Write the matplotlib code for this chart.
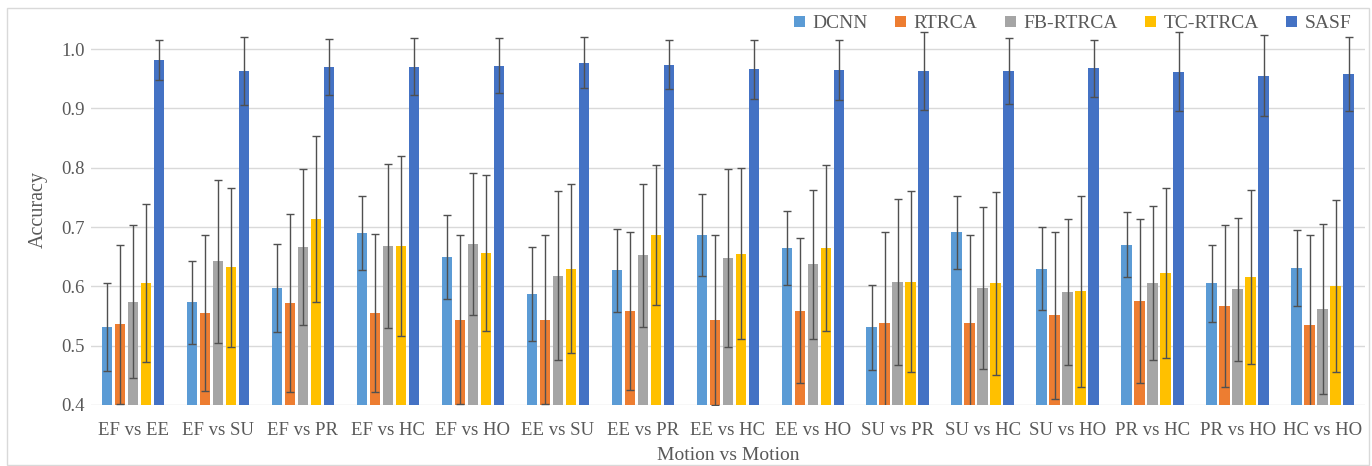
import numpy as np
import matplotlib
matplotlib.use("Agg")
import matplotlib.pyplot as plt
from matplotlib.patches import Rectangle

# Categorias (pares de movimentos)
pairs = ["EF vs EE", "EF vs SU", "EF vs PR", "EF vs HC", "EF vs HO",
         "EE vs SU", "EE vs PR", "EE vs HC", "EE vs HO", "SU vs PR",
         "SU vs HC", "SU vs HO", "PR vs HC", "PR vs HO", "HC vs HO"]

methods = ["DCNN", "RTRCA", "FB-RTRCA", "TC-RTRCA", "SASF"]

# Acurácia média de cada método
dcnn = [0.532, 0.573, 0.597, 0.690, 0.650, 0.587, 0.627, 0.686, 0.665, 0.531,
        0.691, 0.630, 0.670, 0.605, 0.631]
rtrca = [0.536, 0.555, 0.572, 0.555, 0.544, 0.544, 0.558, 0.543, 0.559, 0.538,
         0.539, 0.551, 0.575, 0.567, 0.535]
fb_rtrca = [0.574, 0.642, 0.666, 0.668, 0.671, 0.618, 0.652, 0.648, 0.637, 0.607,
            0.597, 0.590, 0.605, 0.595, 0.562]
tc_rtrca = [0.605, 0.632, 0.713, 0.668, 0.656, 0.630, 0.686, 0.655, 0.665, 0.608,
            0.605, 0.592, 0.623, 0.616, 0.600]
sasf = [0.982, 0.963, 0.970, 0.970, 0.972, 0.977, 0.974, 0.966, 0.965, 0.963,
        0.963, 0.968, 0.962, 0.955, 0.958]

# Desvio padrão (barras de erro)
dcnn_std = [0.074, 0.070, 0.074, 0.062, 0.071, 0.080, 0.070, 0.069, 0.062, 0.072,
            0.062, 0.070, 0.055, 0.065, 0.064]
rtrca_std = [0.134, 0.131, 0.150, 0.134, 0.142, 0.143, 0.133, 0.143, 0.122, 0.154,
             0.148, 0.141, 0.138, 0.137, 0.152]
fb_rtrca_std = [0.129, 0.138, 0.132, 0.138, 0.120, 0.142, 0.121, 0.150, 0.126, 0.140,
                0.136, 0.123, 0.130, 0.121, 0.143]
tc_rtrca_std = [0.133, 0.134, 0.140, 0.152, 0.131, 0.143, 0.118, 0.144, 0.140, 0.153,
                0.154, 0.161, 0.143, 0.147, 0.145]
sasf_std = [0.034, 0.057, 0.047, 0.048, 0.046, 0.043, 0.042, 0.050, 0.050, 0.066,
            0.056, 0.048, 0.066, 0.068, 0.063]

colors = ["#5B9BD5", "#ED7D31", "#A5A5A5", "#FFC000", "#4472C4"]

plt.rcParams['font.family'] = ['Liberation Serif', 'DejaVu Serif']

fig = plt.figure(figsize=(13.72, 4.66), dpi=100)
ax = fig.add_axes([0.066, 0.131, 0.929, 0.84])

x = np.arange(len(pairs))
means = [dcnn, rtrca, fb_rtrca, tc_rtrca, sasf]
stds = [dcnn_std, rtrca_std, fb_rtrca_std, tc_rtrca_std, sasf_std]
pitch = 0.153
width = 0.125

for i in range(len(methods)):
    pos = x + (i - 2) * pitch
    ax.bar(pos, means[i], width, color=colors[i], label=methods[i], zorder=2)
    ax.errorbar(pos, means[i], yerr=stds[i], fmt='none', ecolor='#505050',
                elinewidth=1, capsize=3, capthick=1, zorder=3)

ax.set_ylim(0.4, 1.06)
ax.set_xlim(-0.5, len(pairs) - 0.5)
ax.set_yticks([0.4, 0.5, 0.6, 0.7, 0.8, 0.9, 1.0])
ax.set_yticklabels(["0.4", "0.5", "0.6", "0.7", "0.8", "0.9", "1.0"])
ax.set_xticks(x)
ax.set_xticklabels(pairs)
ax.tick_params(axis='both', length=0, labelsize=13.5, colors='#595959')
ax.tick_params(axis='x', pad=12)
ax.tick_params(axis='y', pad=4)
ax.grid(axis='y', color='#d9d9d9', linewidth=1, zorder=0)
for s in ax.spines.values():
    s.set_visible(False)

ax.set_ylabel("Accuracy", fontsize=14.5, color='#595959', labelpad=10)
ax.set_xlabel("Motion vs Motion", fontsize=14, color='#595959', labelpad=6)

leg = ax.legend(loc='upper right', bbox_to_anchor=(1.003, 1.04), ncol=5, frameon=False,
                fontsize=14, handlelength=0.55, handleheight=0.55, columnspacing=1.4,
                handletextpad=0.4)
for t in leg.get_texts():
    t.set_color('#595959')

fig.patches.append(Rectangle((0.005, 0.003), 0.993, 0.98, transform=fig.transFigure,
                             fill=False, edgecolor='#d9d9d9', linewidth=1))

fig.savefig("out.png", dpi=100)
